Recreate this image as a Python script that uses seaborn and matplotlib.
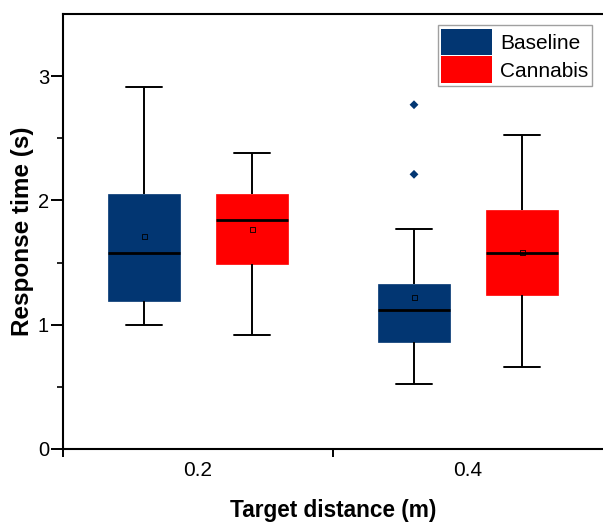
import numpy as np
import pandas as pd
import matplotlib
matplotlib.use("Agg")
import matplotlib.pyplot as plt
from matplotlib.patches import Patch
from matplotlib.ticker import FixedLocator, NullFormatter
import seaborn as sns

# ---- data ----
categories = ["0.2", "0.4"]
groups = ["Baseline", "Cannabis"]
colors = ["#023672", "#ff0000"]

baseline_low = [1.00, 0.52]
baseline_q1 = [1.19, 0.86]
baseline_med = [1.58, 1.12]
baseline_q3 = [2.05, 1.33]
baseline_high = [2.91, 1.77]
baseline_mean = [1.71, 1.22]

cannabis_low = [0.92, 0.66]
cannabis_q1 = [1.49, 1.24]
cannabis_med = [1.84, 1.58]
cannabis_q3 = [2.05, 1.92]
cannabis_high = [2.38, 2.53]
cannabis_mean = [1.77, 1.58]

outlier_cat = ["0.4", "0.4"]
outlier_group = ["Baseline", "Baseline"]
outlier_vals = [2.21, 2.77]

# ---- tables ----
rows = []
summ = {
    "Baseline": (baseline_low, baseline_q1, baseline_med, baseline_q3, baseline_high),
    "Cannabis": (cannabis_low, cannabis_q1, cannabis_med, cannabis_q3, cannabis_high),
}
for g in groups:
    for i, c in enumerate(categories):
        for arr in summ[g]:
            rows.append({"dist": c, "group": g, "val": arr[i]})
box_df = pd.DataFrame(rows)

mean_df = pd.DataFrame({
    "dist": categories * 2,
    "group": [groups[0]] * 2 + [groups[1]] * 2,
    "val": baseline_mean + cannabis_mean,
})
out_df = pd.DataFrame({"dist": outlier_cat, "group": outlier_group, "val": outlier_vals})

sns.set_style("ticks")
plt.rcParams["font.family"] = ["Liberation Sans", "DejaVu Sans"]
plt.rcParams["text.color"] = "black"
plt.rcParams["xtick.color"] = "black"
plt.rcParams["ytick.color"] = "black"
plt.rcParams["axes.labelcolor"] = "black"

fig = plt.figure(figsize=(6.03, 5.23), dpi=100)
ax = fig.add_axes([63 / 603, 74 / 523, 540 / 603, 435 / 523])

pal = dict(zip(groups, colors))
sns.boxplot(data=box_df, x="dist", y="val", hue="group", order=categories,
            hue_order=groups, palette=pal, whis=(0, 100), width=0.8, gap=0.33,
            saturation=1, linecolor="black", linewidth=1.4, fliersize=0,
            medianprops=dict(color="black", linewidth=2.0),
            ax=ax, legend=False)
for p in ax.patches:
    p.set_edgecolor(p.get_facecolor())
    p.set_linewidth(0.5)

sns.stripplot(data=out_df, x="dist", y="val", hue="group", order=categories,
              hue_order=groups, palette=pal, dodge=True, jitter=False,
              marker="D", size=4.5, linewidth=0, ax=ax, legend=False, zorder=5)
n1 = len(ax.collections)
sns.stripplot(data=mean_df, x="dist", y="val", hue="group", order=categories,
              hue_order=groups, palette=pal, dodge=True, jitter=False,
              marker="s", size=3.6, linewidth=0.6, edgecolor="black", ax=ax,
              legend=False, zorder=6)
for coll in ax.collections[n1:]:
    coll.set_facecolor("none")
    coll.set_edgecolor("black")

# axes
ax.set_xlim(-0.5, 1.5)
ax.set_ylim(0, 3.5)
ax.set_yticks([0, 1, 2, 3])
ax.set_yticklabels(["0", "1", "2", "3"])
ax.yaxis.set_minor_locator(FixedLocator([0.5, 1.5, 2.5]))
ax.xaxis.set_major_locator(FixedLocator([-0.5, 0.5]))
ax.xaxis.set_major_formatter(NullFormatter())
ax.xaxis.set_minor_locator(FixedLocator([0, 1]))
ax.set_xticklabels(categories, minor=True)
ax.tick_params(axis="x", which="minor", length=0, labelsize=15, pad=9)
ax.tick_params(axis="x", which="major", length=6, width=1.4, direction="out")
ax.tick_params(axis="y", which="major", length=8.5, width=1.4, direction="out",
               labelsize=14.5, pad=1.5)
ax.tick_params(axis="y", which="minor", length=4, width=1.2, direction="out")

for s in ["left", "bottom", "top"]:
    ax.spines[s].set_visible(True)
    ax.spines[s].set_linewidth(1.5)
    ax.spines[s].set_color("black")
ax.spines["right"].set_visible(False)

ax.set_xlabel("Target distance (m)", fontsize=16.3, fontweight="bold", labelpad=13)
ax.set_ylabel("Response time (s)", fontsize=17.5, fontweight="bold", labelpad=3)

handles = [Patch(facecolor=c, edgecolor="none") for c in colors]
leg = ax.legend(handles, groups, loc="upper right", fontsize=15,
                handlelength=2.45, handleheight=1.6, handletextpad=0.4,
                labelspacing=0.05, borderpad=0.15, borderaxespad=0.55,
                fancybox=False, frameon=True)
leg.get_frame().set_edgecolor("#888888")
leg.get_frame().set_linewidth(1.0)

fig.savefig("out.png", dpi=100)
